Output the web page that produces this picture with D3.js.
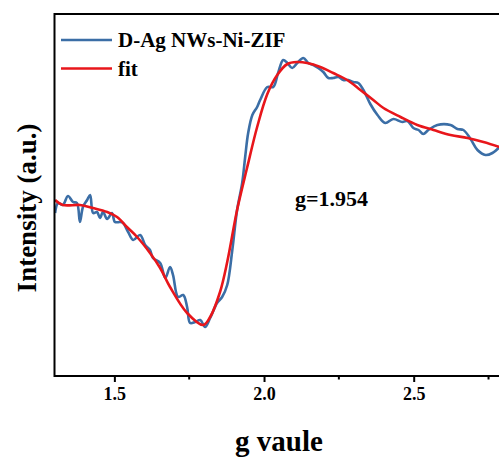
<!DOCTYPE html>
<html>
<head>
<meta charset="utf-8">
<script src="https://cdn.jsdelivr.net/npm/d3@7"></script>
<style>
  html, body { margin: 0; padding: 0; background: #fff; }
  svg text { font-family: "Liberation Serif", Tinos, "DejaVu Serif", serif !important; font-weight: bold; }
</style>
</head>
<body>
<svg id="chart" width="499" height="457"></svg>
<script>
// ---- data ----
const dataG = [1.302,1.312,1.328,1.345,1.362,1.375,1.385,1.395,1.409,1.419,1.429,1.442,1.452,1.462,1.476,1.492,1.502,1.519,1.529,1.546,1.563,1.586,1.603,1.619,1.629,1.653,1.670,1.686,1.696,1.713,1.730,1.743,1.753,1.770,1.787,1.803,1.820,1.843,1.860,1.877,1.894,1.910,1.927,1.937,1.947,1.961,1.977,1.987,2.011,2.031,2.047,2.064,2.078,2.094,2.111,2.131,2.148,2.165,2.181,2.198,2.215,2.231,2.248,2.265,2.282,2.298,2.315,2.332,2.355,2.379,2.405,2.432,2.462,2.479,2.499,2.516,2.532,2.549,2.579,2.623,2.646,2.666,2.690,2.713,2.740,2.763,2.787];
const dataI = [0.37,0.47,0.45,0.54,0.48,0.47,0.28,0.43,0.50,0.55,0.37,0.38,0.32,0.38,0.31,0.37,0.28,0.28,0.27,0.18,0.10,0.15,0.05,0.00,-0.08,-0.13,-0.28,-0.17,-0.25,-0.47,-0.45,-0.57,-0.73,-0.72,-0.70,-0.77,-0.68,-0.53,-0.47,-0.35,0.00,0.40,0.67,0.93,1.17,1.35,1.43,1.50,1.63,1.63,1.77,1.90,1.87,1.82,1.87,1.92,1.87,1.85,1.82,1.78,1.72,1.72,1.73,1.70,1.70,1.68,1.67,1.60,1.46,1.35,1.27,1.31,1.28,1.29,1.22,1.20,1.16,1.20,1.25,1.25,1.21,1.20,1.11,1.00,0.95,0.97,1.03];

const fitG = [1.302,1.328,1.385,1.429,1.476,1.509,1.542,1.576,1.619,1.653,1.686,1.743,1.797,1.820,1.853,1.877,1.910,1.944,1.977,2.011,2.044,2.078,2.111,2.144,2.188,2.231,2.278,2.322,2.365,2.399,2.456,2.512,2.566,2.623,2.680,2.733,2.787];
const fitI = [0.50,0.45,0.45,0.42,0.38,0.33,0.23,0.13,-0.03,-0.18,-0.37,-0.63,-0.75,-0.67,-0.42,-0.12,0.40,0.83,1.23,1.56,1.75,1.86,1.88,1.87,1.83,1.77,1.70,1.60,1.50,1.42,1.33,1.25,1.20,1.15,1.12,1.08,1.03];

const xTicks = [1.5, 2.0, 2.5];
const xMinorTicks = [1.75, 2.25, 2.75];
const seriesNames = ["D-Ag NWs-Ni-ZIF", "fit"];
const seriesColors = ["#3b6ea6", "#e8161b"];

// ---- layout ----
const FONT = "'Liberation Serif', Tinos, 'DejaVu Serif', serif";
const svg = d3.select("#chart");
const mLeft = 54.5, mTop = 14, mBottom = 376, mRight = 503.5;

const x = d3.scaleLinear().domain([1.3, 2.8]).range([mLeft, mRight]);
const y = d3.scaleLinear().domain([-1.26, 2.36]).range([mBottom, mTop]);

svg.append("defs").append("clipPath").attr("id", "clip")
  .append("rect").attr("x", mLeft).attr("y", mTop).attr("width", mRight - mLeft).attr("height", mBottom - mTop);

const line = d3.line().x(d => x(d[0])).y(d => y(d[1])).curve(d3.curveCatmullRom.alpha(0.5));

const blue = dataG.map((g, i) => [g, dataI[i]]);
const red = fitG.map((g, i) => [g, fitI[i]]);

const plot = svg.append("g").attr("clip-path", "url(#clip)");
plot.append("path").datum(blue).attr("d", line)
  .attr("fill", "none").attr("stroke", seriesColors[0]).attr("stroke-width", 2.6).attr("stroke-linejoin", "round");
plot.append("path").datum(red).attr("d", line)
  .attr("fill", "none").attr("stroke", seriesColors[1]).attr("stroke-width", 2.6).attr("stroke-linejoin", "round");

// frame: top and left lines
svg.append("line").attr("x1", mLeft).attr("x2", mRight).attr("y1", mTop).attr("y2", mTop)
  .attr("stroke", "#000").attr("stroke-width", 2);
svg.append("line").attr("x1", mLeft).attr("x2", mLeft).attr("y1", mTop - 1).attr("y2", mBottom + 1)
  .attr("stroke", "#000").attr("stroke-width", 2);

// x axis
const xAxis = d3.axisBottom(x).tickValues(xTicks).tickFormat(d3.format(".1f")).tickSize(6).tickPadding(5);
const ax = svg.append("g").attr("transform", `translate(0,${mBottom})`).call(xAxis)
  .attr("font-family", FONT).attr("font-size", 18);
ax.select(".domain").attr("stroke-width", 2).attr("d", `M${mLeft},0H${mRight}`);
ax.selectAll(".tick line").attr("stroke-width", 2);
ax.selectAll(".tick text").style("font-family", FONT).style("font-weight", "bold").attr("fill", "#000");
svg.append("g").attr("transform", `translate(0,${mBottom})`)
  .selectAll("line").data(xMinorTicks).join("line")
  .attr("x1", d => x(d)).attr("x2", d => x(d)).attr("y1", 0).attr("y2", 3.5)
  .attr("stroke", "#000").attr("stroke-width", 2);

// axis titles
svg.append("text").attr("x", (mLeft + mRight) / 2).attr("y", 451).attr("text-anchor", "middle")
  .attr("font-size", 29).style("font-family", FONT).text("g vaule");
svg.append("text").attr("transform", "translate(36,208) rotate(-90)").attr("text-anchor", "middle")
  .attr("font-size", 27).style("font-family", FONT).text("Intensity (a.u.)");

// annotation
svg.append("text").attr("x", 295).attr("y", 206).attr("font-size", 22).style("font-family", FONT).text("g=1.954");

// legend
const lg = svg.append("g");
seriesNames.forEach((name, i) => {
  const yy = 40 + i * 28.5;
  lg.append("line").attr("x1", 61).attr("x2", 112).attr("y1", yy).attr("y2", yy)
    .attr("stroke", seriesColors[i]).attr("stroke-width", 2.6);
  lg.append("text").attr("x", 118).attr("y", yy + 7).attr("font-size", 21).style("font-family", FONT).text(name);
});
</script>
</body>
</html>
